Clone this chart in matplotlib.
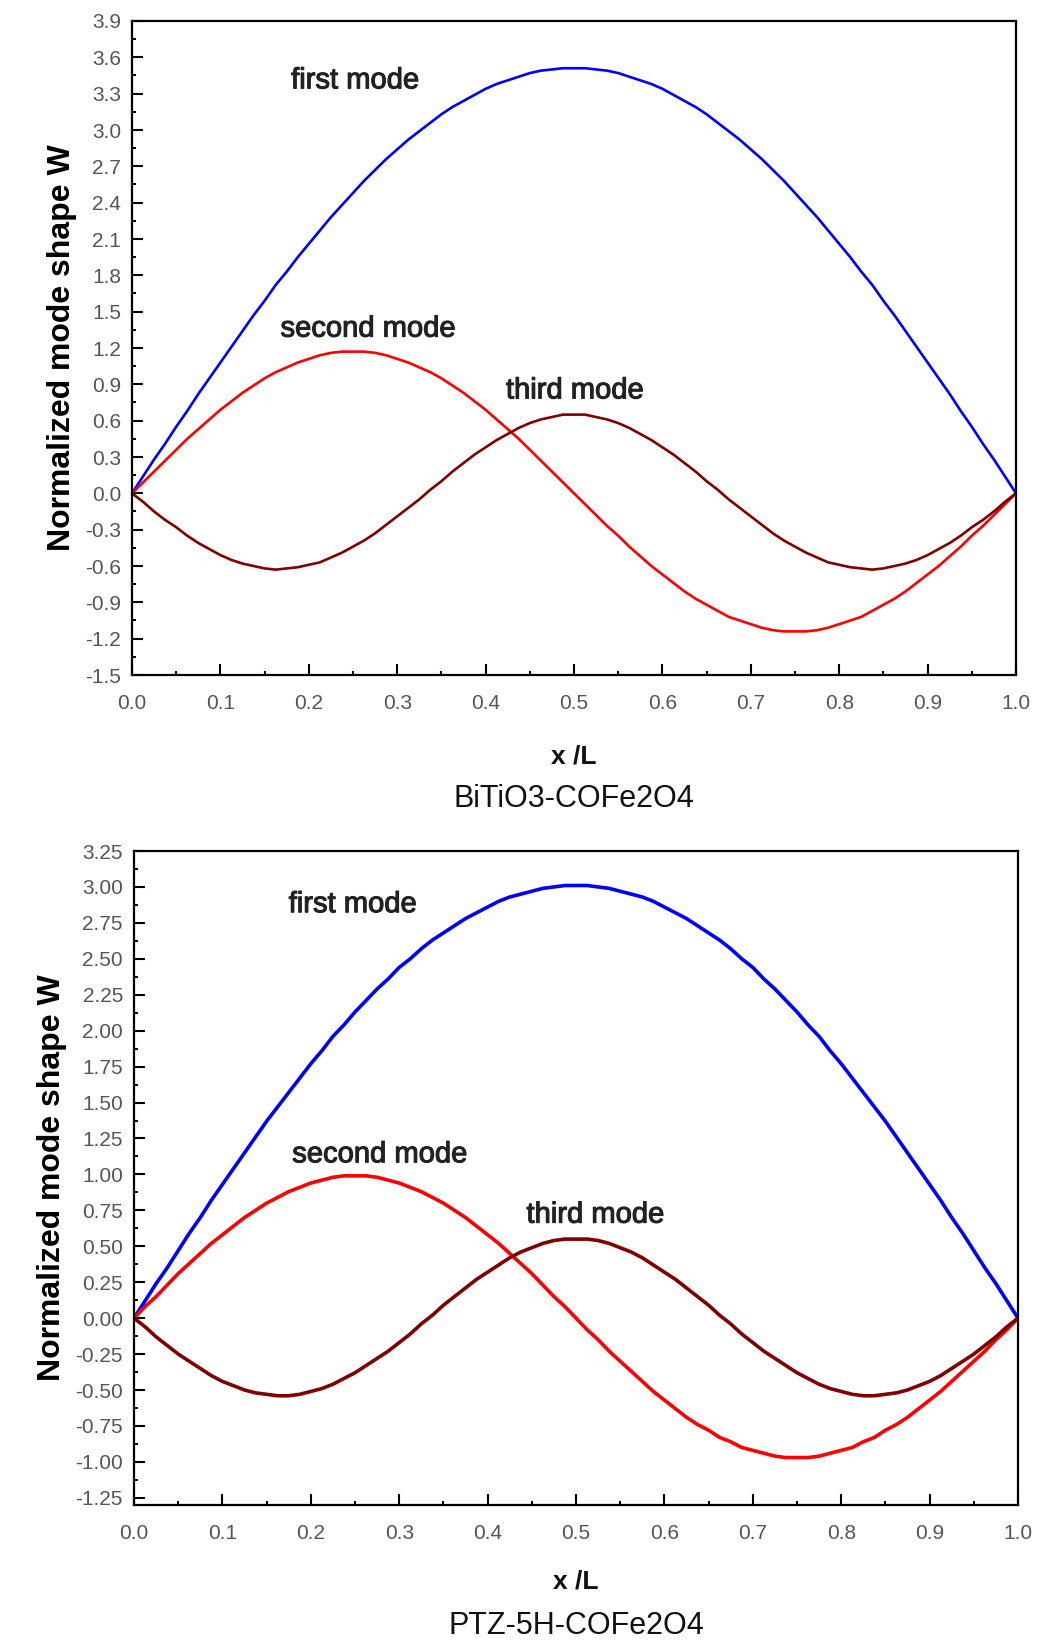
import numpy as np
import matplotlib
matplotlib.use("Agg")
import matplotlib.pyplot as plt
import matplotlib.patheffects as pe
from matplotlib.ticker import MultipleLocator, FuncFormatter

plt.rcParams['font.family'] = ['Liberation Sans', 'DejaVu Sans']

# mode shapes read off the picture, sampled evenly along x/L from 0 to 1
# BiTiO3-COFe2O4
bt_first = [0, 0.14, 0.28, 0.41, 0.55, 0.68, 0.82, 0.95, 1.08, 1.21, 1.34, 1.47, 1.59, 1.72, 1.83, 1.95, 2.06, 2.17, 2.28, 2.38,
            2.48, 2.58, 2.67, 2.76, 2.84, 2.92, 2.99, 3.06, 3.13, 3.19, 3.24, 3.29, 3.34, 3.38, 3.41, 3.44, 3.47, 3.49, 3.50, 3.51, 3.51,
            3.51, 3.50, 3.49, 3.47, 3.44, 3.41, 3.38, 3.34, 3.29, 3.24, 3.19, 3.13, 3.06, 2.99, 2.92, 2.84, 2.76, 2.67, 2.58, 2.48,
            2.38, 2.28, 2.17, 2.06, 1.95, 1.83, 1.72, 1.59, 1.47, 1.34, 1.21, 1.08, 0.95, 0.82, 0.68, 0.55, 0.41, 0.28, 0.14, 0]
bt_second = [0, 0.09, 0.18, 0.27, 0.36, 0.45, 0.53, 0.61, 0.69, 0.76, 0.83, 0.89, 0.95, 1.00, 1.04, 1.08, 1.11, 1.14, 1.16, 1.17, 1.17,
             1.17, 1.16, 1.14, 1.11, 1.08, 1.04, 1.00, 0.95, 0.89, 0.83, 0.76, 0.69, 0.61, 0.53, 0.45, 0.36, 0.27, 0.18, 0.09, 0,
             -0.09, -0.18, -0.27, -0.35, -0.44, -0.52, -0.60, -0.67, -0.74, -0.81, -0.87, -0.92, -0.97, -1.02, -1.05, -1.08, -1.11, -1.13, -1.14, -1.14,
             -1.14, -1.13, -1.11, -1.08, -1.05, -1.02, -0.97, -0.92, -0.87, -0.81, -0.74, -0.67, -0.60, -0.52, -0.44, -0.35, -0.27, -0.18, -0.09, 0]
bt_third = [0, -0.07, -0.15, -0.22, -0.28, -0.35, -0.41, -0.46, -0.51, -0.55, -0.58, -0.60, -0.62, -0.63, -0.62, -0.61, -0.59, -0.57, -0.53, -0.49,
            -0.44, -0.39, -0.33, -0.26, -0.19, -0.12, -0.05, 0.03, 0.10, 0.18, 0.25, 0.32, 0.38, 0.44, 0.49, 0.54, 0.58, 0.61, 0.63, 0.65, 0.65,
            0.65, 0.63, 0.61, 0.58, 0.54, 0.49, 0.44, 0.38, 0.32, 0.25, 0.18, 0.10, 0.03, -0.05, -0.12, -0.19, -0.26, -0.33, -0.39, -0.44,
            -0.49, -0.53, -0.57, -0.59, -0.61, -0.62, -0.63, -0.62, -0.60, -0.58, -0.55, -0.51, -0.46, -0.41, -0.35, -0.28, -0.22, -0.15, -0.07, 0]

# PTZ-5H-COFe2O4
ptz_first = [0, 0.12, 0.24, 0.35, 0.47, 0.59, 0.70, 0.82, 0.93, 1.04, 1.15, 1.26, 1.37, 1.47, 1.57, 1.67, 1.77, 1.86, 1.96, 2.04,
             2.13, 2.21, 2.29, 2.36, 2.44, 2.50, 2.57, 2.63, 2.68, 2.73, 2.78, 2.82, 2.86, 2.90, 2.93, 2.95, 2.97, 2.99, 3.00, 3.01, 3.01,
             3.01, 3.00, 2.99, 2.97, 2.95, 2.93, 2.90, 2.86, 2.82, 2.78, 2.73, 2.68, 2.63, 2.57, 2.50, 2.44, 2.36, 2.29, 2.21, 2.13,
             2.04, 1.96, 1.86, 1.77, 1.67, 1.57, 1.47, 1.37, 1.26, 1.15, 1.04, 0.93, 0.82, 0.70, 0.59, 0.47, 0.35, 0.24, 0.12, 0]
ptz_second = [0, 0.08, 0.15, 0.23, 0.31, 0.38, 0.45, 0.52, 0.58, 0.64, 0.70, 0.75, 0.80, 0.84, 0.88, 0.91, 0.94, 0.96, 0.98, 0.99, 0.99,
              0.99, 0.98, 0.96, 0.94, 0.91, 0.88, 0.84, 0.80, 0.75, 0.70, 0.64, 0.58, 0.52, 0.45, 0.38, 0.31, 0.23, 0.15, 0.08, 0,
              -0.08, -0.15, -0.23, -0.30, -0.37, -0.44, -0.51, -0.57, -0.63, -0.69, -0.74, -0.78, -0.83, -0.86, -0.90, -0.92, -0.94, -0.96, -0.97, -0.97,
              -0.97, -0.96, -0.94, -0.92, -0.90, -0.86, -0.83, -0.78, -0.74, -0.69, -0.63, -0.57, -0.51, -0.44, -0.37, -0.30, -0.23, -0.15, -0.08, 0]
ptz_third = [0, -0.06, -0.13, -0.19, -0.25, -0.30, -0.35, -0.40, -0.44, -0.47, -0.50, -0.52, -0.53, -0.54, -0.54, -0.53, -0.51, -0.49, -0.46, -0.42,
             -0.38, -0.33, -0.28, -0.23, -0.17, -0.11, -0.04, 0.02, 0.09, 0.15, 0.21, 0.27, 0.32, 0.37, 0.42, 0.46, 0.49, 0.52, 0.54, 0.55, 0.55,
             0.55, 0.54, 0.52, 0.49, 0.46, 0.42, 0.37, 0.32, 0.27, 0.21, 0.15, 0.09, 0.02, -0.04, -0.11, -0.17, -0.23, -0.28, -0.33, -0.38,
             -0.42, -0.46, -0.49, -0.51, -0.53, -0.54, -0.54, -0.53, -0.52, -0.50, -0.47, -0.44, -0.40, -0.35, -0.30, -0.25, -0.19, -0.13, -0.06, 0]

mode_names = ["first mode", "second mode", "third mode"]
bt_label_pos = [(0.18, 3.41), (0.168, 1.36), (0.423, 0.85)]
ptz_label_pos = [(0.175, 2.88), (0.179, 1.14), (0.444, 0.72)]
colors = ["#0000ff", "#ff0000", "#800000"]

W, H = 1049, 1642
fig = plt.figure(figsize=(W/100, H/100), dpi=100)

panels = [
    dict(rect=[132/W, 1-675/H, 884/W, 654/H], series=[bt_first, bt_second, bt_third], ylim=(-1.5, 3.9),
         major=0.3, minor=0.15, fmt='%.1f', lw=1.9, labels=bt_label_pos, title="BiTiO3-COFe2O4", xl_y=756, t_y=799),
    dict(rect=[134/W, 1-1505/H, 884/W, 654/H], series=[ptz_first, ptz_second, ptz_third], ylim=(-1.3, 3.25),
         major=0.25, minor=0.125, fmt='%.2f', lw=2.6, labels=ptz_label_pos, title="PTZ-5H-COFe2O4", xl_y=1581, t_y=1626),
]

def make_fmt(fmt):
    return FuncFormatter(lambda v, pos: fmt % (round(v, 4) + 0.0))

for p in panels:
    ax = fig.add_axes(p["rect"])
    for ys, c in zip(p["series"], colors):
        ax.plot(np.linspace(0, 1, len(ys)), ys, color=c, lw=p["lw"])
    for name, (tx, ty) in zip(mode_names, p["labels"]):
        ax.text(tx, ty, name, fontsize=21, color='#222222', va='center', ha='left',
                path_effects=[pe.withStroke(linewidth=0.8, foreground='#222222')])
    ax.set_xlim(0, 1)
    ax.set_ylim(*p["ylim"])
    ax.xaxis.set_major_locator(MultipleLocator(0.1))
    ax.xaxis.set_minor_locator(MultipleLocator(0.05))
    ax.yaxis.set_major_locator(MultipleLocator(p["major"]))
    ax.yaxis.set_minor_locator(MultipleLocator(p["minor"]))
    ax.xaxis.set_major_formatter(make_fmt('%.1f'))
    ax.yaxis.set_major_formatter(make_fmt(p["fmt"]))
    ax.tick_params(which='both', direction='in', top=False, right=False, width=1.5, colors='black', labelcolor='#555555', labelsize=15)
    ax.tick_params(which='major', length=8)
    ax.tick_params(which='minor', length=3)
    ax.tick_params(axis='x', pad=14)
    ax.tick_params(axis='y', pad=8)
    for s in ax.spines.values():
        s.set_linewidth(1.6)
    ax.set_ylabel("Normalized mode shape W", fontsize=23, fontweight='bold', labelpad=6)
    xc = (p["rect"][0] + p["rect"][2]/2)
    fig.text(xc, 1-p["xl_y"]/H, "x /L", fontsize=19, fontweight='bold', ha='center', va='center', color='#111111')
    fig.text(xc, 1-p["t_y"]/H, p["title"], fontsize=22, ha='center', va='center', color='#111111')

fig.savefig("out.png", dpi=100)
